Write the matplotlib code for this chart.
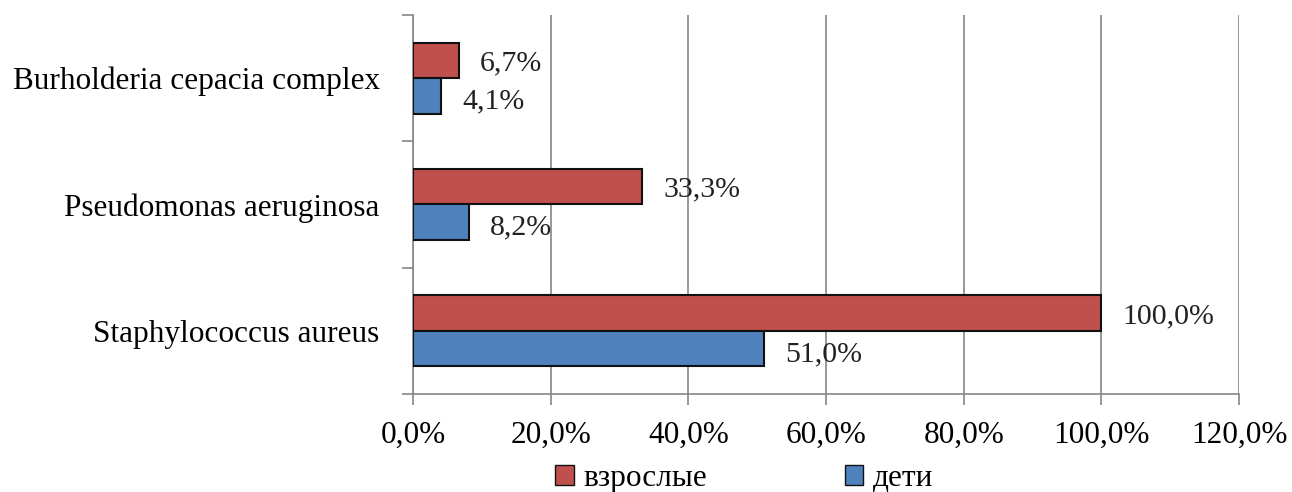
import numpy as np
import matplotlib.pyplot as plt
from matplotlib.patches import Patch
from matplotlib.ticker import FuncFormatter

plt.rcParams['font.family'] = ['Liberation Serif', 'DejaVu Serif']

categories = ['Staphylococcus aureus', 'Pseudomonas aeruginosa', 'Burholderia cepacia complex']
adults = [100.0, 33.3, 6.7]    # взрослые
children = [51.0, 8.2, 4.1]    # дети
x_ticks = [0, 20, 40, 60, 80, 100, 120]

red = '#C0504D'
blue = '#4F81BD'
grid_col = '#868686'


def pct(v):
    return f'{v:.1f}%'.replace('.', ',')


fig = plt.figure(figsize=(12.92, 4.92), dpi=100)
ax = fig.add_axes([0.3197, 0.1992, 0.6393, 0.7703])

y = np.arange(len(categories))
h = 0.28
ax.barh(y + h / 2, adults, height=h, color=red, edgecolor='#111111', linewidth=1.5, zorder=3)
ax.barh(y - h / 2, children, height=h, color=blue, edgecolor='#111111', linewidth=1.5, zorder=3)

for yi, v in zip(y, adults):
    ax.annotate(pct(v), (v, yi + h / 2), xytext=(15, -2), textcoords='offset points',
                va='center', ha='left', fontsize=21.5, color='#222222')
for yi, v in zip(y, children):
    ax.annotate(pct(v), (v, yi - h / 2), xytext=(15, -4), textcoords='offset points',
                va='center', ha='left', fontsize=21.5, color='#222222')

ax.set_xlim(0, 120)
ax.set_ylim(-0.5, len(categories) - 0.5)
ax.set_xticks(x_ticks)
ax.xaxis.set_major_formatter(FuncFormatter(lambda v, p: pct(v)))
ax.set_yticks(y)
ax.set_yticklabels(categories)
ax.set_yticks(np.arange(-0.5, len(categories), 1), minor=True)

ax.grid(axis='x', color=grid_col, linewidth=1.2, zorder=0)
for s in ['top', 'right']:
    ax.spines[s].set_visible(False)
ax.spines['left'].set_color(grid_col)
ax.spines['bottom'].set_color(grid_col)
ax.spines['left'].set_linewidth(1.2)
ax.spines['bottom'].set_linewidth(1.2)

ax.tick_params(axis='x', length=8, width=1.2, color=grid_col, labelsize=22.5, pad=11)
ax.tick_params(axis='y', which='major', length=0, labelsize=22.5, pad=24)
ax.tick_params(axis='y', which='minor', length=8, width=1.2, color=grid_col)

handles = [Patch(facecolor=red, edgecolor='#111111', label='взрослые'),
           Patch(facecolor=blue, edgecolor='#111111', label='дети')]
fig.legend(handles=handles, loc='center', bbox_to_anchor=(0.576, 0.027), ncol=2,
           frameon=False, fontsize=22.5, handlelength=0.6, handleheight=0.6,
           handletextpad=0.3, columnspacing=4.4)

fig.savefig('out.png', dpi=100)
